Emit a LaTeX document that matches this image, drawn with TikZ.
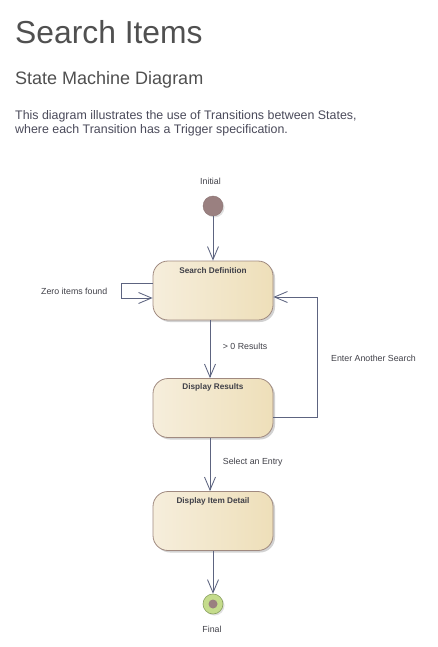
\documentclass[tikz,border=0pt]{standalone}
\usepackage{fontspec}
\setmainfont{Liberation Sans}
\usetikzlibrary{arrows.meta,shadows}
\definecolor{titlec}{HTML}{505050}
\definecolor{descc}{HTML}{4A4A5A}
\definecolor{labc}{HTML}{404048}
\definecolor{connc}{HTML}{5D6480}
\definecolor{boxL}{HTML}{F6EEDC}
\definecolor{boxR}{HTML}{EEDFB9}
\definecolor{boxB}{HTML}{A08A80}
\definecolor{initc}{HTML}{9A8080}
\definecolor{finO}{HTML}{C5DC8C}
\definecolor{finB}{HTML}{8AA060}
\tikzset{
  statebox/.style={draw=boxB, line width=0.8pt, rounded corners=15pt,
    left color=boxL, right color=boxR, minimum width=120pt, minimum height=59pt,
    inner sep=0pt, drop shadow={shadow xshift=2pt, shadow yshift=-2pt, fill=black!35, opacity=0.5}},
  stitle/.style={font=\fontsize{8.2}{10}\selectfont\bfseries, text=labc, inner sep=0pt},
  lab/.style={font=\fontsize{8.8}{10}\selectfont, text=labc, inner sep=0pt},
  conn/.style={draw=connc, line width=0.85pt, -{Straight Barb[length=13pt,width=11pt,line width=0.85pt]}},
  plain/.style={draw=connc, line width=0.8pt}
}
\begin{document}
\begin{tikzpicture}[x=1pt,y=-1pt]
\useasboundingbox[fill=white] (0,0) rectangle (438,647);
% header
\node[anchor=base west, inner sep=0pt, text=titlec, font=\fontsize{31.8}{36}\selectfont] (title) at (15,44) {Search Items};
\node[anchor=base west, inner sep=0pt, text=titlec, font=\fontsize{18}{22}\selectfont] (sub) at (15,85) {State Machine Diagram};
\node[anchor=base west, inner sep=0pt, text=descc, font=\fontsize{12.4}{14}\selectfont] (d1) at (15,120) {This diagram illustrates the use of Transitions between States,};
\node[anchor=base west, inner sep=0pt, text=descc, font=\fontsize{12.4}{14}\selectfont] (d2) at (15,134) {where each Transition has a Trigger specification.};
% initial
\node[lab] (initlab) at (210.5,181) {Initial};
\node[circle, fill=initc, draw=initc!90!black, line width=0.4pt, minimum size=20pt, inner sep=0pt,
  drop shadow={shadow xshift=1.5pt, shadow yshift=-1.5pt, fill=black!30, opacity=0.4}] (init) at (213,206) {};
% states
\node[statebox] (SD) at (213,290.5) {};
\node[stitle] (SDt) at (213,270.7) {Search Definition};
\node[statebox] (DR) at (213,408) {};
\node[stitle] (DRt) at (213,387.7) {Display Results};
\node[statebox] (DID) at (213,521) {};
\node[stitle] (DIDt) at (213,501) {Display Item Detail};
% final
\node[circle, fill=finO, draw=finB, line width=0.6pt, minimum size=20pt, inner sep=0pt,
  drop shadow={shadow xshift=1.5pt, shadow yshift=-1.5pt, fill=black!30, opacity=0.4}] (fin) at (213,604) {};
\node[circle, fill=initc, minimum size=9pt, inner sep=0pt] (finin) at (fin.center) {};
\node[lab] (finlab) at (212,629) {Final};
% connectors
\coordinate (xa) at (210,0);
\draw[conn] (init) -- (SD.north);
\draw[conn] (SD.west |- 0,283) -| (121,298) -- (SD.west |- 0,298);
\node[lab, anchor=west] (zlab) at (41,291.7) {Zero items found};
\draw[conn] (SD.south -| xa) -- (DR.north -| xa);
\node[lab, anchor=west] (rlab) at (222.7,346.7) {> 0 Results};
\draw[conn] (DR.east |- 0,417) -| (317,297) -- (SD.east |- 0,297);
\node[lab, anchor=west] (elab) at (331,358.7) {Enter Another Search};
\draw[conn] (DR.south -| xa) -- (DID.north -| xa);
\node[lab, anchor=west] (slab) at (222.7,462.7) {Select an Entry};
\draw[conn] (DID.south) -- (fin.north);
\end{tikzpicture}
\end{document}
